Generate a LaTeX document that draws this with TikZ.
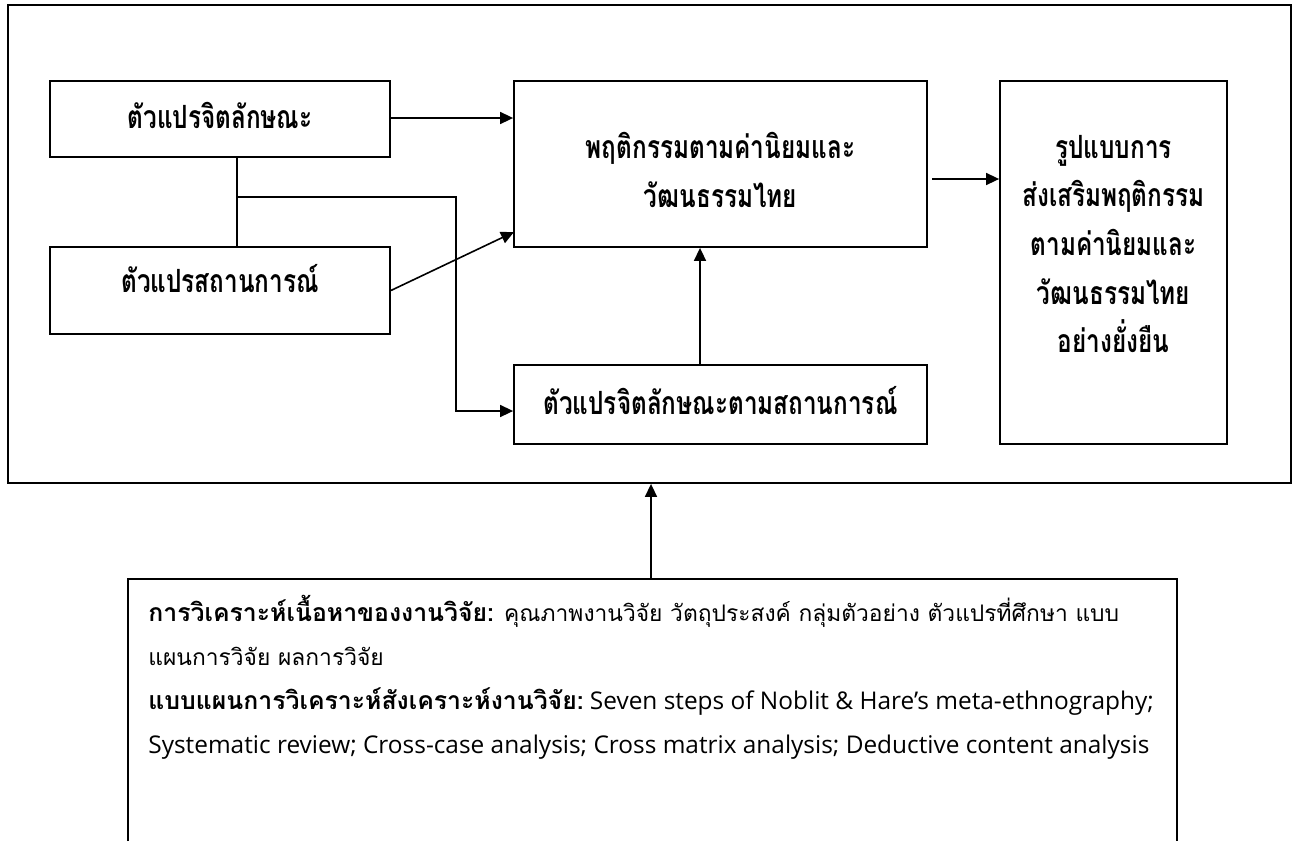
\documentclass[tikz,border=0pt]{standalone}
\usepackage{fontspec}
\setmainfont{Open Sans}
\newfontfamily\thaifont[Script=Thai]{Loma}
\newfontfamily\thaicond[Script=Thai,FakeStretch=0.76]{Loma}
\usetikzlibrary{arrows.meta,calc}

\begin{document}
\begin{tikzpicture}[x=0.5pt,y=-0.5pt,>={Triangle[length=6.5pt,width=6pt]},
	box/.style={draw,line width=0.9pt,inner sep=0pt},
	lbl/.style={inner sep=0pt,align=center,font=\thaicond\bfseries\fontsize{16}{24.3}\selectfont},
	conn/.style={line width=0.8pt}]
	\useasboundingbox (0,0) rectangle (1294,841);
	\node[box,minimum width=641.5pt,minimum height=239pt] (frame) at (649.5,244) {};
	% boxes
	\node[box,minimum width=170pt,minimum height=38pt] (jit) at (220,119) {};
	\node[box,minimum width=170pt,minimum height=43.5pt] (sit) at (220,290.5) {};
	\node[box,minimum width=206.5pt,minimum height=83pt] (beh) at (720.5,164) {};
	\node[box,minimum width=206.5pt,minimum height=39.5pt] (jitsit) at (720.5,404.5) {};
	\node[box,minimum width=113.5pt,minimum height=181.5pt] (model) at (1113.5,262.5) {};
	% texts
	\node[lbl] (jittxt) at (220,115.5) {ตัวแปรจิตลักษณะ};
	\node[lbl] (sittxt) at (220,279) {ตัวแปรสถานการณ์};
	\node[lbl] (behtxt) at (720.5,170) {พฤติกรรมตามค่านิยมและ\\วัฒนธรรมไทย};
	\node[lbl] (jitsittxt) at (720.5,401) {ตัวแปรจิตลักษณะตามสถานการณ์};
	\node[lbl] (modeltxt) at (1113.5,244) {รูปแบบการ\\ส่งเสริมพฤติกรรม\\ตามค่านิยมและ\\วัฒนธรรมไทย\\อย่างยั่งยืน};
	% connectors inside the frame
	\coordinate (j) at (237,197);
	\coordinate (k) at (456,411);
	\coordinate (bin) at (514,232);
	\coordinate (bout) at (932,179);
	\draw[conn] (j |- jit.south) -- (j |- sit.north);
	\draw[conn,->] (j) -| (k) -- (k -| jitsit.west);
	\draw[conn,->] (jit.east |- 0,118) -- (beh.west |- 0,118);
	\draw[conn,->] (sit.east) -- (bin);
	\draw[conn,->] (bout) -- (bout -| model.west);
	\draw[conn,->] ($(jitsit.north)+(-20.5,0)$) -- ($(beh.south)+(-20.5,0)$);
	% analysis box, open at the bottom
	\coordinate (src) at (651,579);
	\draw[line width=0.9pt] (128,841) -- (128,579) -- (1177,579) -- (1177,841);
	\draw[conn,->] (src) -- (src |- frame.south);
	\node[anchor=north west,align=left,inner sep=0pt,font=\thaifont\fontsize{11.4}{22}\selectfont] (txt) at (148,595)
		{{\bfseries\fontsize{12.4}{22}\selectfont การวิเคราะห์เนื้อหาของงานวิจัย:} คุณภาพงานวิจัย วัตถุประสงค์ กลุ่มตัวอย่าง ตัวแปรที่ศึกษา แบบ\\
		แผนการวิจัย ผลการวิจัย\\
		{\bfseries\fontsize{12.4}{22}\selectfont แบบแผนการวิเคราะห์สังเคราะห์งานวิจัย:}{\rmfamily\fontsize{12.2}{22}\selectfont\ Seven steps of Noblit \& Hare’s meta-ethnography;}\\
		{\rmfamily\fontsize{12.2}{22}\selectfont Systematic review; Cross-case analysis; Cross matrix analysis; Deductive content analysis}};
\end{tikzpicture}
\end{document}
